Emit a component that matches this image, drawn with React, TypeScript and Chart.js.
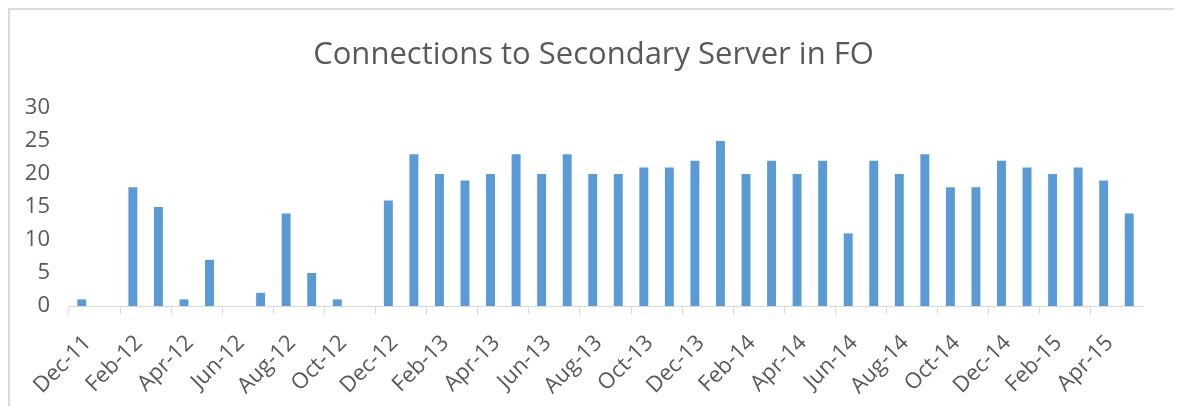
import React, { useEffect, useRef } from "react";
import { Chart, registerables } from "chart.js";

Chart.register(...registerables);

const TITLE = "Connections to Secondary Server in FO";

const months: string[] = [
  "Dec-11", "Jan-12", "Feb-12", "Mar-12", "Apr-12", "May-12", "Jun-12", "Jul-12",
  "Aug-12", "Sep-12", "Oct-12", "Nov-12", "Dec-12", "Jan-13", "Feb-13", "Mar-13",
  "Apr-13", "May-13", "Jun-13", "Jul-13", "Aug-13", "Sep-13", "Oct-13", "Nov-13",
  "Dec-13", "Jan-14", "Feb-14", "Mar-14", "Apr-14", "May-14", "Jun-14", "Jul-14",
  "Aug-14", "Sep-14", "Oct-14", "Nov-14", "Dec-14", "Jan-15", "Feb-15", "Mar-15",
  "Apr-15", "May-15",
];

const connections: number[] = [
  1, 0, 18, 15, 1, 7, 0, 2,
  14, 5, 1, 0, 16, 23, 20, 19,
  20, 23, 20, 23, 20, 20, 21, 21,
  22, 25, 20, 22, 20, 22, 11, 22,
  20, 23, 18, 18, 22, 21, 20, 21,
  19, 14,
];

const yTicks: number[] = [0, 5, 10, 15, 20, 25, 30];

const FONT = "'Open Sans', sans-serif";

const titlePlugin = {
  id: "centeredTitle",
  afterDraw(chart: any) {
    const ctx = chart.ctx;
    ctx.save();
    ctx.font = `31px ${FONT}`;
    ctx.fillStyle = "#595959";
    ctx.textAlign = "center";
    ctx.textBaseline = "alphabetic";
    ctx.fillText(TITLE, chart.width / 2 + 1, 54);
    ctx.restore();
  },
};

export default function App() {
  const ref = useRef<HTMLCanvasElement | null>(null);

  useEffect(() => {
    if (!ref.current) return;
    const chart = new Chart(ref.current, {
      type: "bar",
      data: {
        labels: months,
        datasets: [
          {
            label: "Connections",
            data: connections,
            backgroundColor: "#5b9bd5",
            borderWidth: 0,
            categoryPercentage: 1,
            barPercentage: 0.35,
          },
        ],
      },
      plugins: [titlePlugin],
      options: {
        animation: false,
        responsive: false,
        maintainAspectRatio: false,
        layout: { padding: { left: 0, right: 33, top: 98, bottom: 0 } },
        plugins: {
          legend: { display: false },
          tooltip: { enabled: false },
          title: { display: false },
        },
        scales: {
          x: {
            offset: true,
            grid: {
              offset: true,
              drawOnChartArea: false,
              drawTicks: true,
              tickLength: 8,
              color: (ctx: any) => (ctx.index % 2 === 0 ? "#d9d9d9" : "rgba(0,0,0,0)"),
            },
            border: { display: true, color: "#d9d9d9", width: 1 },
            ticks: {
              autoSkip: false,
              maxRotation: 45,
              minRotation: 45,
              padding: 16,
              labelOffset: 6,
              color: "#595959",
              font: { family: FONT, size: 22 },
              callback: (_v: any, i: number) => (i % 2 === 0 ? months[i] : ""),
            },
            afterFit: (s: any) => {
              s.height = 100;
            },
          },
          y: {
            min: 0,
            max: 30,
            afterBuildTicks: (s: any) => {
              s.ticks = yTicks.map((v) => ({ value: v }));
            },
            grid: { display: false, drawTicks: false },
            border: { display: false },
            ticks: {
              padding: 19,
              color: "#595959",
              font: { family: FONT, size: 22 },
            },
            afterFit: (s: any) => {
              s.width = 59;
            },
          },
        },
      },
    });
    return () => chart.destroy();
  }, []);

  return (
    <div
      style={{
        width: 1165,
        height: 420,
        border: "2px solid #d9d9d9",
        background: "#fff",
      }}
    >
      <canvas ref={ref} width={1165} height={396} style={{ display: "block" }} />
    </div>
  );
}
